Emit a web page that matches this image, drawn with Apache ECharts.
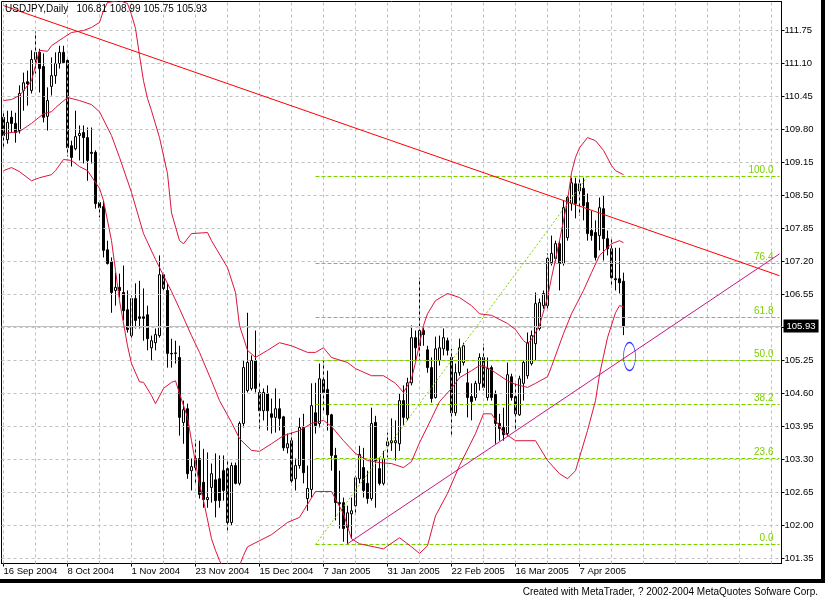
<!DOCTYPE html>
<html><head><meta charset="utf-8">
<script src="https://cdn.jsdelivr.net/npm/echarts@6/dist/echarts.min.js"></script>
<style>html,body{margin:0;padding:0;background:#fff}#c{width:825px;height:600px}</style>
</head><body><div id="c"></div>
<script>
const chartTitle = 'USDJPY,Daily   106.81 108.99 105.75 105.93';
const footerText = 'Created with MetaTrader, ? 2002-2004 MetaQuotes Sofware Corp.';
const yTicks = [101.35,102.00,102.65,103.30,103.95,104.60,105.25,105.90,106.55,107.20,107.85,108.50,109.15,109.80,110.45,111.10,111.75];
const yLabelTicks = [101.35,102.00,102.65,103.30,103.95,104.60,105.25,106.55,107.20,107.85,108.50,109.15,109.80,110.45,111.10,111.75];
const yMin = 101.2515, yMax = 112.3212;
const lastPrice = 105.93;
const MONTHS = ['Jan','Feb','Mar','Apr','May','Jun','Jul','Aug','Sep','Oct','Nov','Dec'];
const skipDays = ['2004-12-24'];
const barCount = 195;
const categories = [];
(function(){ let t = Date.UTC(2004,8,16);
  while (categories.length < barCount) { const d = new Date(t); const w = d.getUTCDay(); const iso = d.toISOString().slice(0,10);
    if (w !== 0 && w !== 6 && skipDays.indexOf(iso) < 0) categories.push(d.getUTCDate()+' '+MONTHS[d.getUTCMonth()]+' '+d.getUTCFullYear());
    t += 86400000; } })();

const candleOpen = [110.04,109.60,110.04,109.92,109.78,110.57,110.74,110.57,111.18,111.32,111.04,110.06,110.65,110.86,111.10,111.32,111.16,109.48,109.42,109.68,
109.74,109.64,109.35,109.35,108.36,108.28,107.43,107.20,106.63,106.69,106.59,106.25,105.74,106.47,106.11,106.11,106.15,105.50,105.60,105.74,
106.94,106.63,105.39,105.39,105.31,104.03,104.30,103.08,103.14,103.32,102.85,102.51,102.75,102.90,102.92,103.08,103.12,102.06,103.18,102.83,
104.01,104.66,104.70,105.25,104.62,104.26,104.60,104.20,104.13,104.30,104.14,103.53,103.67,102.92,103.18,103.93,102.53,102.71,104.22,104.01,
104.87,104.68,104.18,103.38,102.45,102.45,101.96,102.23,102.39,102.92,103.14,102.83,102.53,104.03,103.12,102.83,103.57,103.63,103.63,103.61,
104.46,104.11,104.81,105.70,105.54,105.84,105.46,105.11,104.52,105.25,105.48,105.64,105.31,104.22,105.01,105.21,104.81,104.54,104.52,104.80,
105.31,104.52,105.11,104.58,104.01,103.93,103.81,104.93,104.54,104.18,104.80,104.95,105.19,105.58,105.88,106.33,106.33,107.18,107.26,107.55,
107.16,107.67,108.34,108.73,108.59,108.64,108.36,107.81,107.77,107.71,108.24,107.65,107.45,106.86,106.86,106.81];
const candleClose = [109.68,109.94,109.92,109.74,110.51,110.72,110.70,111.18,111.32,111.00,110.04,110.37,110.86,111.10,111.32,111.12,109.44,109.25,109.66,109.72,
109.64,109.19,109.33,108.34,108.26,107.42,107.16,106.59,106.69,106.63,106.23,105.86,106.47,106.04,106.08,106.08,105.68,105.64,105.76,106.94,
106.67,105.39,105.38,105.40,104.13,104.28,103.02,103.16,103.32,102.61,102.51,102.55,103.02,102.49,102.49,102.69,102.06,103.18,102.83,104.01,
105.11,105.21,105.25,104.70,104.26,104.62,104.26,104.13,104.30,104.11,103.53,103.61,102.88,103.18,103.93,103.04,102.73,104.36,103.97,104.89,
104.62,104.18,103.38,102.45,102.43,101.94,102.25,102.29,102.94,103.40,102.69,102.53,104.01,103.28,102.83,103.32,103.65,103.67,103.67,104.46,
104.13,104.81,105.70,105.50,105.84,105.76,105.11,104.50,105.48,105.50,105.70,105.45,104.22,105.01,105.50,105.54,104.52,104.44,104.80,105.31,
104.72,105.09,104.52,104.01,103.91,103.79,104.97,104.52,104.20,104.89,105.21,105.60,105.74,106.37,106.39,106.57,107.26,107.36,107.55,107.16,
108.26,108.46,108.75,108.34,108.73,108.30,107.75,107.71,107.28,108.26,107.65,107.45,106.88,106.84,106.78,105.93];
const candleHigh = [110.13,110.17,110.17,110.13,110.67,110.92,110.96,111.36,111.73,111.39,111.30,110.63,111.22,111.32,111.45,111.45,111.20,109.58,110.17,109.88,
109.88,109.84,109.84,109.39,108.40,108.40,107.61,107.28,106.98,106.96,107.12,106.63,106.53,106.77,106.82,106.67,106.33,105.74,105.88,107.32,
106.98,106.77,105.68,105.64,105.54,104.46,104.40,103.32,103.69,103.67,103.51,103.44,103.22,103.42,103.38,103.38,103.28,103.24,103.24,104.05,
105.25,106.19,105.35,105.84,104.85,104.70,104.76,104.50,104.70,104.50,104.16,103.81,103.83,103.32,104.12,104.20,103.18,104.80,104.81,105.19,
105.25,105.05,104.20,103.53,103.08,102.55,102.39,102.55,102.98,103.57,103.53,103.08,104.32,104.16,103.34,103.47,103.83,104.11,104.07,104.60,
104.76,104.91,105.94,105.84,106.88,105.90,105.54,105.31,105.72,105.74,105.88,105.70,105.48,105.19,105.68,105.60,105.09,104.80,104.85,105.39,
105.58,105.31,105.15,104.66,104.20,104.32,105.21,104.99,104.80,104.95,105.25,105.80,105.84,106.59,106.47,106.63,107.36,107.71,107.61,107.61,
108.40,108.50,108.85,108.85,108.89,108.85,108.54,108.20,108.01,108.46,108.50,107.81,107.65,107.47,107.47,106.98];
const candleLow = [109.44,109.52,109.74,109.54,109.72,110.17,110.27,110.51,110.90,110.53,109.94,109.78,110.47,110.70,111.00,111.10,109.27,109.07,109.39,109.19,
109.13,108.79,109.13,108.24,108.07,107.28,107.14,106.19,106.33,106.49,106.04,105.80,105.70,105.88,105.88,105.64,105.45,105.25,105.45,105.70,
106.63,105.11,105.11,105.19,103.77,103.61,102.92,102.69,102.83,102.53,102.35,102.35,102.45,102.16,102.35,102.49,101.90,102.00,102.81,102.79,
103.93,104.62,104.66,104.62,103.87,104.07,103.87,103.81,103.83,103.87,103.47,103.42,102.79,102.69,103.12,102.83,102.29,102.55,103.81,103.93,
104.26,103.87,103.08,102.10,101.94,101.68,101.64,101.74,102.25,102.83,102.55,102.43,102.49,102.35,102.79,102.79,103.34,103.47,103.28,103.47,
103.97,104.07,104.76,105.25,105.25,105.54,105.01,104.42,104.50,105.15,105.35,105.35,103.77,104.16,104.95,105.15,104.13,104.07,104.46,104.66,
104.66,104.46,104.46,103.61,103.67,103.67,103.77,104.46,103.87,104.16,104.46,104.89,105.15,105.25,105.84,106.27,106.27,107.12,107.18,106.63,
107.12,107.61,108.20,108.05,108.10,108.01,107.61,107.61,107.22,107.42,107.22,107.32,106.69,106.63,106.57,105.75];

const bbUpper = [[0,110.37],[2,110.39],[4,110.47],[7,110.76],[9,111.36],[11,111.34],[12,111.45],[15,111.61],[17,111.71],[20,111.75],[22,111.81],[24,111.91],[25,112.14],[26,112.30],[29,112.34],[31,112.28],[32,112.06],[33,111.79],[34,111.26],[35,110.76],[36,110.41],[37,110.17],[39,109.64],[41,108.93],[42,108.16],[44,107.61],[45,107.55],[47,107.75],[51,107.77],[52,107.61],[56,107.08],[58,106.59],[59,105.94],[61,105.45],[63,105.31],[66,105.45],[69,105.60],[72,105.54],[76,105.41],[78,105.41],[80,105.50],[82,105.31],[86,105.21],[88,105.09],[92,104.95],[95,104.95],[98,104.80],[100,104.62],[102,104.89],[103,105.21],[105,105.94],[106,106.17],[108,106.43],[111,106.57],[114,106.49],[117,106.33],[119,106.17],[122,106.14],[126,105.98],[128,105.86],[130,105.64],[131,105.58],[132,105.66],[134,105.94],[136,106.49],[137,106.88],[139,107.61],[141,108.40],[142,108.95],[143,109.25],[144,109.44],[146,109.64],[148,109.58],[150,109.39],[152,109.09],[153,108.99],[155,108.91]];
const bbMiddle = [[0,109.72],[2,109.74],[4,109.76],[7,109.92],[10,110.11],[12,110.15],[13,110.23],[16,110.43],[19,110.37],[22,110.29],[24,110.15],[27,109.68],[29,109.25],[32,108.56],[35,107.75],[38,107.24],[42,106.61],[44,106.27],[47,105.74],[49,105.41],[52,104.85],[54,104.46],[57,104.03],[59,103.71],[62,103.48],[64,103.46],[67,103.61],[70,103.77],[74,103.87],[77,104.01],[80,104.07],[82,103.95],[85,103.67],[88,103.42],[91,103.28],[94,103.24],[97,103.22],[100,103.14],[102,103.26],[104,103.63],[107,104.11],[109,104.44],[112,104.70],[114,104.91],[117,105.05],[119,105.15],[121,105.11],[123,105.01],[126,104.85],[128,104.78],[131,104.72],[133,104.80],[136,104.93],[137,105.13],[140,105.78],[142,106.17],[145,106.63],[147,106.98],[149,107.32],[151,107.47],[152,107.55],[154,107.61],[155,107.57]];
const bbLower = [[0,108.99],[2,109.05],[4,108.97],[7,108.79],[9,108.85],[12,108.91],[13,108.99],[15,109.21],[17,109.19],[19,109.07],[21,108.99],[24,108.64],[25,108.40],[27,107.61],[28,107.02],[29,106.43],[31,105.54],[32,105.19],[34,104.83],[35,104.82],[37,104.56],[38,104.40],[40,104.70],[42,104.82],[43,104.85],[44,104.60],[46,104.13],[47,103.67],[49,102.81],[50,102.49],[52,101.74],[53,101.51],[54,101.31],[56,101.01],[57,100.95],[59,101.21],[60,101.41],[61,101.58],[64,101.70],[67,101.82],[71,102.06],[74,102.16],[75,102.29],[78,102.67],[82,102.67],[85,102.23],[87,101.74],[89,101.64],[95,101.54],[99,101.76],[102,101.58],[104,101.45],[106,101.60],[108,102.19],[111,102.63],[114,103.18],[118,103.81],[120,104.20],[122,104.20],[125,103.83],[128,103.67],[133,103.67],[136,103.28],[139,103.02],[141,102.92],[143,103.08],[146,103.87],[148,104.46],[149,104.97],[151,105.70],[153,106.19],[154,106.33],[155,106.31]];

const trendDown = [[0,112.24],[194,106.92]];
const trendUp = [[86,101.64],[194,107.35]];
const fibDiagonal = [[78,101.626],[146,108.874]];
const fibLabels = ['0.0','23.6','38.2','50.0','61.8','76.4','100.0'];
const fibPrices = [101.626,103.320,104.383,105.250,106.097,107.161,108.874];
const fibStartIdx = 78, fibEndIdx = 194;
const markedPoint = [[156,105.33]];

const FONT = 'Liberation Sans';
const candles = candleOpen.map((o,i)=>[o, candleClose[i], candleLow[i], candleHigh[i]]);
const lastIdx = candleOpen.length - 1;
const vGridIdx = []; for (let i = 0; i < barCount; i += 8) vGridIdx.push(i);
const showLbl = (i) => i % 16 === 0 && i <= lastIdx;
const FIB = '#7CD000';

const chart = echarts.init(document.getElementById('c'), null, {renderer:'canvas'});
chart.setOption({
  animation:false,
  grid:{left:1.5,right:43.5,top:1.5,bottom:36.5,show:true,borderColor:'#000',borderWidth:1,backgroundColor:'#fff'},
  xAxis:{type:'category',data:categories,boundaryGap:true,
    axisLine:{show:true,lineStyle:{color:'#000',width:1}},
    axisTick:{show:true,alignWithLabel:true,length:3,interval:showLbl,lineStyle:{color:'#000'}},
    axisLabel:{interval:showLbl,align:'left',margin:3,fontFamily:FONT,fontSize:9.5,color:'#000'},
    splitLine:{show:false}},
  yAxis:{type:'value',position:'right',min:yMin,max:yMax,
    axisLine:{show:true,lineStyle:{color:'#000'}},
    axisTick:{show:true,length:3,customValues:yTicks,lineStyle:{color:'#000'}},
    axisLabel:{customValues:yLabelTicks,margin:3,fontFamily:FONT,fontSize:9.5,color:'#000',formatter:(v)=>Number(v).toFixed(2)},
    splitLine:{show:false}},
  series:[
    {type:'line',data:[],z:1,silent:true,
      markLine:{silent:true,symbol:['none','none'],label:{show:false},animation:false,
        lineStyle:{color:'#C0C0C0',type:[3,3],width:1},
        data: yTicks.map(v=>({yAxis:v})).concat(vGridIdx.map(i=>({xAxis:categories[i]})))}},
    {type:'line',data:[],z:2,silent:true,
      markLine:{silent:true,symbol:['none','none'],animation:false,
        lineStyle:{color:'#C0C0C0',type:'solid',width:1},
        label:{show:true,position:'end',distance:2,formatter:lastPrice.toFixed(2),backgroundColor:'#000',color:'#fff',
          padding:[2,3,1,3],fontFamily:FONT,fontSize:9.5},
        data:[{yAxis:lastPrice}]}},
    {type:'candlestick',data:candles,barWidth:2,z:3,
      itemStyle:{color:'#fff',color0:'#000',borderColor:'#000',borderColor0:'#000',borderWidth:1}},
    {type:'line',data:[],z:4,silent:true,
      markLine:{silent:true,symbol:['none','none'],animation:false,
        lineStyle:{color:FIB,type:[4,2],width:1},
        label:{show:true,position:'insideEndTop',distance:1,color:FIB,fontFamily:FONT,fontSize:10,formatter:'{b}',padding:[0,5,0,0]},
        data: fibPrices.map((p,k)=>[{name:fibLabels[k],coord:[categories[fibStartIdx],p],lineStyle:{color:FIB,type:[4,2],width:1}},{coord:[categories[fibEndIdx],p]}])}},
    {type:'line',data:fibDiagonal,z:4,showSymbol:false,silent:true,lineStyle:{color:FIB,type:[2,2],width:1}},
    {type:'line',data:bbUpper,z:5,showSymbol:false,silent:true,lineStyle:{color:'#DC143C',width:1}},
    {type:'line',data:bbMiddle,z:5,showSymbol:false,silent:true,lineStyle:{color:'#DC143C',width:1}},
    {type:'line',data:bbLower,z:5,showSymbol:false,silent:true,lineStyle:{color:'#DC143C',width:1}},
    {type:'line',data:trendDown,z:6,showSymbol:false,silent:true,lineStyle:{color:'#FF0000',width:1}},
    {type:'line',data:trendUp,z:6,showSymbol:false,silent:true,lineStyle:{color:'#C71585',width:1}},
    {type:'scatter',data:markedPoint,z:7,silent:true,symbol:'circle',symbolSize:[12,28],symbolOffset:[2,0],
      itemStyle:{color:'rgba(0,0,0,0)',borderColor:'#0000FF',borderWidth:1}}
  ],
  graphic:[
    {type:'text',left:5,top:4,z:100,style:{text:chartTitle,fontFamily:FONT,fontSize:10,fill:'#000'}},
    {type:'text',right:7,top:587,z:100,style:{text:footerText,fontFamily:FONT,fontSize:10,fill:'#000'}},
    {type:'rect',z:100,shape:{x:821,y:0,width:4,height:583},style:{fill:'#000'}},
    {type:'rect',z:100,shape:{x:0,y:579,width:825,height:4},style:{fill:'#000'}}
  ]
});
</script></body></html>
